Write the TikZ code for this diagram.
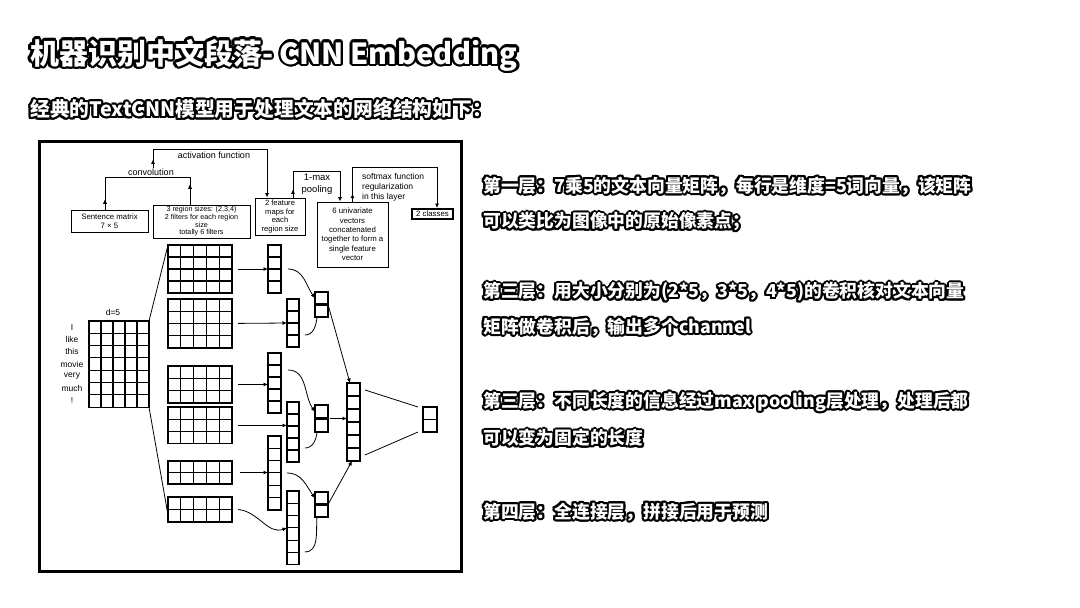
\documentclass[tikz,border=0pt]{standalone}
\usepackage{fontspec}
\setmainfont{Liberation Sans}
\newfontfamily\cjk{Noto Sans CJK SC}
\newfontfamily\diag{Liberation Sans}
\usetikzlibrary{arrows.meta}
\usetikzlibrary{decorations.markings}

% white letters with a black rim
\newcommand\halo[2][2]{%
  \foreach \ang in {0,22.5,...,337.5}{%
    \pgfmathsetmacro\hx{#1*cos(\ang)}%
    \pgfmathsetmacro\hy{#1*sin(\ang)}%
    \rlap{\hspace*{\hx pt}\raisebox{\hy pt}{\color{black}#2}}}%
  {\color{white}#2}}

% name, style, left, top, columns, rows, cell width, cell height
\newcommand\cellblock[8]{%
  \node[#2, minimum width=#5*#7pt, minimum height=#6*#8pt, anchor=north west] (#1) at (#3,#4) {};
  \foreach \c in {1,...,#5}{\ifnum\c<#5 \draw[gridline] ([xshift=\c*#7pt]#1.north west) -- ([xshift=\c*#7pt]#1.south west);\fi}
  \foreach \r in {1,...,#6}{\ifnum\r<#6 \draw[gridline] ([yshift=-\r*#8pt]#1.north west) -- ([yshift=-\r*#8pt]#1.north east);\fi}
}

\begin{document}
\begin{tikzpicture}[x=1pt,y=-1pt,
    lbl/.style={font=\diag\fontsize{9}{10.5}\selectfont, inner sep=0pt, align=center},
    box/.style={draw, line width=0.9pt, inner sep=0pt, align=center, font=\diag\fontsize{7.8}{9.4}\selectfont},
    word/.style={font=\diag\fontsize{8.5}{9}\selectfont, inner sep=0pt},
    thickcell/.style={draw, line width=2.4pt, inner sep=0pt, outer sep=0pt},
    thincell/.style={draw, line width=1.1pt, inner sep=0pt, outer sep=0pt},
    gridline/.style={line width=1.1pt},
    conn/.style={line width=0.8pt, -{Latex[length=4.5pt,width=4pt]}},
    link/.style={line width=0.8pt},
    tipat/.style={postaction={decorate}, decoration={markings, mark=at position #1 with {\arrow{Latex[length=4.5pt,width=4pt]}}}},
    tipback/.style={postaction={decorate}, decoration={markings, mark=at position #1 with {\arrowreversed{Latex[length=4.5pt,width=4pt]}}}},
    head/.style={font=\cjk\bfseries\fontsize{29}{29}\selectfont, inner sep=0pt, anchor=west},
    sub/.style={font=\cjk\bfseries\fontsize{19.8}{19.8}\selectfont, inner sep=0pt, anchor=west},
    note/.style={font=\cjk\bfseries\fontsize{17.8}{17.8}\selectfont, inner sep=0pt, anchor=west}]
  \useasboundingbox (0,0) rectangle (1080,608);

  % headings
  \node[head] (title) at (30,55) {\halo[2.4]{机器识别中文段落- CNN Embedding}};
  \node[sub] (subtitle) at (30,109) {\halo{经典的TextCNN模型用于处理文本的网络结构如下：}};

  % notes on the right
  \node[note] (l1a) at (483,186) {\halo{第一层：7乘5的文本向量矩阵，每行是维度=5词向量，该矩阵}};
  \node[note] (l1b) at (483,222) {\halo{可以类比为图像中的原始像素点；}};
  \node[note] (l2a) at (483,292) {\halo{第三层：用大小分别为(2*5，3*5，4*5)的卷积核对文本向量}};
  \node[note] (l2b) at (483,327) {\halo{矩阵做卷积后，输出多个channel}};
  \node[note] (l3a) at (483,402) {\halo{第三层：不同长度的信息经过max pooling层处理，处理后都}};
  \node[note] (l3b) at (483,438) {\halo{可以变为固定的长度}};
  \node[note] (l4) at (483,512) {\halo{第四层：全连接层，拼接后用于预测}};

  % frame of the figure
  \draw[line width=3pt] (39,141) rectangle (461,571);

  % upper boxes
  \node[box, minimum width=77pt, minimum height=22pt, font=\diag\fontsize{7.8}{8.5}\selectfont] (sbox) at (109.5,221) {Sentence matrix\\7 × 5};
  \node[box, minimum width=97pt, minimum height=33pt, font=\diag\fontsize{7.2}{7.6}\selectfont] (rbox) at (201.5,221.5) {3 region sizes: (2,3,4)\\2 filters for each region\\size\\totally 6 filters};
  \node[box, minimum width=50pt, minimum height=37pt, font=\diag\fontsize{7.6}{8.6}\selectfont] (fbox) at (280,216.5) {2 feature\\maps for\\each\\region size};
  \node[box, minimum width=71pt, minimum height=65pt] (ubox) at (352.5,234.5) {6 univariate\\vectors\\concatenated\\together to form a\\single feature\\vector};
  \node[box, line width=2pt, minimum width=41pt, minimum height=10pt] (cbox) at (432.5,214) {2 classes};

  \node[lbl] (conv) at (151,172) {convolution};
  \node[lbl] (act) at (214,155) {activation function};
  \node[lbl, font=\diag\fontsize{9.5}{11.5}\selectfont] (pool) at (317,184) {1-max\\pooling};
  \node[lbl, anchor=west, align=left, font=\diag\fontsize{8.5}{10}\selectfont] (soft) at (362,187) {softmax function\\regularization\\in this layer};

  \draw[link, tipat=0.07, tipback=0.86] ([xshift=-4.5pt]sbox.north) -- ++(0,-32) -| ([xshift=-11.5pt]rbox.north);
  \draw[conn, tipat=0.05] ([xshift=2pt]conv.north) -- ++(0,-19) -| ([xshift=-13pt]fbox.north);
  \draw[conn, tipat=0.08] ([xshift=13pt]fbox.north) -- ++(0,-26) -| ([xshift=-12.5pt]ubox.north);
  \draw[conn, tipat=0.05] (ubox.north) -- ++(0,-34) -| ([xshift=4.5pt]cbox.north);

  % sentence matrix
  \cellblock{sent}{thincell}{89}{321}{5}{7}{12}{12.3}
  \node[word] (dim) at (113,312) {d=5};
  \foreach \w [count=\i] in {I,like,this,movie,very,much,!}
    \node[word] (w\i) at (72,{314.85+12.3*\i}) {\w};

  % filters
  \cellblock{fa}{thickcell}{168}{245}{5}{4}{12.8}{12}
  \cellblock{fb}{thickcell}{168}{299}{5}{4}{12.8}{12.2}
  \cellblock{fc}{thickcell}{168}{366}{5}{3}{12.8}{12.3}
  \cellblock{fd}{thincell}{168}{407}{5}{3}{12.8}{12.3}
  \cellblock{fe}{thickcell}{168}{461}{5}{2}{12.8}{11.5}
  \cellblock{ff}{thincell}{168}{497}{5}{2}{12.8}{12.5}
  \draw[link] (sent.north east) -- (fa.north west);
  \draw[link] (sent.south east) -- ([yshift=7pt]ff.south west);

  % feature maps
  \cellblock{ma}{thickcell}{268}{245}{1}{4}{13}{12}
  \cellblock{mb}{thincell}{287}{299}{1}{4}{12}{12}
  \cellblock{mc}{thickcell}{268}{353}{1}{5}{13}{12}
  \cellblock{md}{thincell}{287}{402}{1}{5}{12}{12}
  \cellblock{me}{thickcell}{268}{436}{1}{6}{13}{12.3}
  \cellblock{mf}{thincell}{287}{491}{1}{6}{12}{12.3}
  \draw[conn] ([xshift=6pt]fa.east) -- (ma.west);
  \draw[conn] ([xshift=6pt]fb.east) -- (mb.west);
  \draw[conn] ([xshift=6pt]fc.east) -- (fc.east -| mc.west);
  \draw[conn] ([xshift=6pt]fd.east) -- (fd.east -| md.west);
  \draw[conn] ([xshift=8pt]fe.east) -- (fe.east -| me.west);
  \draw[conn] ([xshift=6pt]ff.east) to[out=-5,in=200] (mf.west);

  % 1-max pooling
  \cellblock{pab}{thincell}{315}{304.5}{1}{1}{13}{12.5}
  \cellblock{paa}{thickcell}{315}{292}{1}{1}{13}{12.5}
  \cellblock{pbb}{thincell}{315}{418.5}{1}{1}{13}{13.5}
  \cellblock{pba}{thickcell}{315}{405}{1}{1}{13}{13.5}
  \cellblock{pcb}{thincell}{315}{504.5}{1}{1}{13}{12.5}
  \cellblock{pca}{thickcell}{315}{492}{1}{1}{13}{12.5}
  \draw[conn] ([xshift=7pt]ma.east) to[out=0,in=125] (paa.west);
  \draw[link] ([shift={(6pt,-12pt)}]mb.east) to[out=0,in=-95] ([xshift=2pt]pab.south west);
  \draw[conn] ([shift={(7pt,13pt)}]mc.east) to[out=0,in=125] (pba.west);
  \draw[link] ([shift={(6pt,-16pt)}]md.east) to[out=0,in=-95] ([xshift=2pt]pbb.south west);
  \draw[conn] ([xshift=6pt]me.east) to[out=0,in=125] (pca.west);
  \draw[link] ([shift={(6pt,-24pt)}]mf.east) to[out=0,in=-95] ([xshift=2pt]pcb.south west);

  % concatenated vector and output
  \cellblock{cat}{thincell}{347}{383}{1}{6}{13}{13}
  \foreach \k in {0,2,4}
    \draw[line width=2.4pt] ([yshift=-\k*13pt]cat.north west) rectangle ++(13,13);
  \cellblock{out}{thickcell}{423}{407}{1}{2}{14}{12.5}
  \draw[conn] (paa.south east) -- ([xshift=3pt]cat.north west);
  \draw[conn] ([xshift=2pt]pba.south east) -- (pba.south east -| cat.west);
  \draw[conn] (pca.south east) -- ([xshift=5pt]cat.south west);
  \draw[link] ([shift={(5pt,-7pt)}]cat.north east) -- ([xshift=-5pt]out.north west);
  \draw[link] ([shift={(5pt,6pt)}]cat.south east) -- ([xshift=-5pt]out.south west);
\end{tikzpicture}
\end{document}
